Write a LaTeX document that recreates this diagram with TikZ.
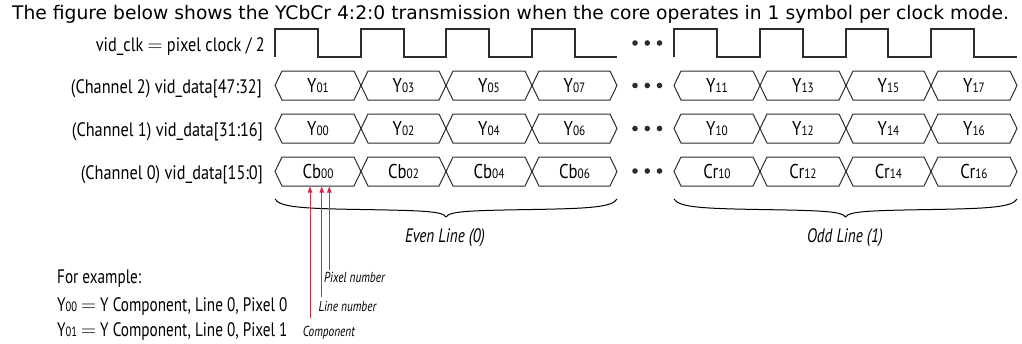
\documentclass[tikz,border=0pt]{standalone}
\usepackage{fontspec}
\setmainfont{PT Sans}
\newfontfamily\titlefont{DejaVu Sans}
\newfontfamily\cond[FakeStretch=0.78]{PT Sans}
\newfontfamily\condw[FakeStretch=0.835]{PT Sans}
\usetikzlibrary{arrows.meta}
\definecolor{wire}{RGB}{45,45,45}
\definecolor{pinkred}{RGB}{218,40,72}
\newcommand\subs[1]{{\fontsize{13.5}{13.5}\selectfont #1}}
\newcommand\busseg[5]{% name, x0, x1, ymid, text
  \draw[bus] (#2,#4) -- (#2+7,#4-14.5) -- (#3-7,#4-14.5) -- (#3,#4) -- (#3-7,#4+14.5) -- (#2+7,#4+14.5) -- cycle;
  \node[seglbl] (#1) at ({(#2+#3)/2},#4+6.8) {#5};
}
\newcommand\threedots[2]{% name, y
  \fill[wire] (635,#2) circle (2.8) (647.3,#2) circle (2.8) (659.5,#2) circle (2.8);
  \coordinate (#1) at (647.3,#2);
}
\tikzset{
  bus/.style={draw=wire, line width=1pt, line join=miter},
  clk/.style={draw=wire, line width=1.2pt},
  seglbl/.style={anchor=base, inner sep=0pt, font=\condw\fontsize{20}{20}\selectfont},
  rowlbl/.style={anchor=base east, inner sep=0pt, font=\condw\fontsize{19.5}{19.5}\selectfont},
  notelbl/.style={anchor=base west, inner sep=0pt, font=\cond\fontsize{19.5}{19.5}\selectfont},
  smalllbl/.style={anchor=base west, inner sep=0pt, font=\cond\itshape\fontsize{14.5}{14.5}\selectfont},
  grouplbl/.style={anchor=base, inner sep=0pt, font=\cond\itshape\fontsize{19.5}{19.5}\selectfont},
  bracestyle/.style={draw=black, line width=1pt},
  redline/.style={draw=pinkred, line width=1pt, -{Triangle[length=6pt,width=4.5pt]}},
}
\begin{document}
\begin{tikzpicture}[x=1pt,y=-1pt]
\useasboundingbox (0,0) rectangle (1022,343);
% title
\node[anchor=base west, inner sep=0pt, font=\titlefont\fontsize{18.7}{18.7}\selectfont] (title) at (12,19.3)
  {The figure below shows the YCbCr 4:2:0 transmission when the core operates in 1 symbol per clock mode.};
% row labels
\node[rowlbl] (lclk) at (265,51.5) {vid\_clk $=$ pixel clock / 2};
\node[rowlbl] (lch2) at (262,93.5) {(Channel 2) vid\_data[47:32]};
\node[rowlbl] (lch1) at (263,136.5) {(Channel 1) vid\_data[31:16]};
\node[rowlbl] (lch0) at (263,179.5) {(Channel 0) vid\_data[15:0]};
% clock
\draw[clk] (275,57) -- (275,29) -- (318,29) -- (318,57) -- (361,57) -- (361,29) -- (404,29) -- (404,57)
  -- (446,57) -- (446,29) -- (489,29) -- (489,57) -- (532,57) -- (532,29) -- (575,29) -- (575,57) -- (617,57);
\draw[clk] (674,57) -- (674,29) -- (717,29) -- (717,57) -- (760,57) -- (760,29) -- (803,29) -- (803,57)
  -- (846,57) -- (846,29) -- (888,29) -- (888,57) -- (931,57) -- (931,29) -- (974,29) -- (974,57) -- (1017,57);
% dots
\threedots{dclk}{43}
\threedots{d2}{85.5}
\threedots{d1}{128.5}
\threedots{d0}{171}
% channel 2
\busseg{a1}{275}{361}{85.5}{Y\subs{01}}
\busseg{a2}{361}{446}{85.5}{Y\subs{03}}
\busseg{a3}{446}{532}{85.5}{Y\subs{05}}
\busseg{a4}{532}{617}{85.5}{Y\subs{07}}
\busseg{a5}{674}{760}{85.5}{Y\subs{11}}
\busseg{a6}{760}{846}{85.5}{Y\subs{13}}
\busseg{a7}{846}{931}{85.5}{Y\subs{15}}
\busseg{a8}{931}{1017}{85.5}{Y\subs{17}}
% channel 1
\busseg{b1}{275}{361}{128.5}{Y\subs{00}}
\busseg{b2}{361}{446}{128.5}{Y\subs{02}}
\busseg{b3}{446}{532}{128.5}{Y\subs{04}}
\busseg{b4}{532}{617}{128.5}{Y\subs{06}}
\busseg{b5}{674}{760}{128.5}{Y\subs{10}}
\busseg{b6}{760}{846}{128.5}{Y\subs{12}}
\busseg{b7}{846}{931}{128.5}{Y\subs{14}}
\busseg{b8}{931}{1017}{128.5}{Y\subs{16}}
% channel 0
\busseg{c1}{275}{361}{171.5}{Cb\subs{00}}
\busseg{c2}{361}{446}{171.5}{Cb\subs{02}}
\busseg{c3}{446}{532}{171.5}{Cb\subs{04}}
\busseg{c4}{532}{617}{171.5}{Cb\subs{06}}
\busseg{c5}{674}{760}{171.5}{Cr\subs{10}}
\busseg{c6}{760}{846}{171.5}{Cr\subs{12}}
\busseg{c7}{846}{931}{171.5}{Cr\subs{14}}
\busseg{c8}{931}{1017}{171.5}{Cr\subs{16}}
% braces
\draw[bracestyle] (275,199) .. controls (280,207) and (300,208.5) .. (360,209.5)
  .. controls (420,210.5) and (443,211) .. (446,217)
  .. controls (449,211) and (472,210.5) .. (532,209.5)
  .. controls (592,208.5) and (612,207) .. (617,199);
\draw[bracestyle] (674,199) .. controls (679,207) and (699,208.5) .. (759,209.5)
  .. controls (819,210.5) and (842,211) .. (845.5,217)
  .. controls (849,211) and (872,210.5) .. (932,209.5)
  .. controls (992,208.5) and (1012,207) .. (1017,199);
\node[grouplbl] (even) at (445,242.3) {Even Line (0)};
\node[grouplbl] (odd) at (845,242.3) {Odd Line (1)};
% red pointers
\coordinate (pcomp) at (310,186.5);
\coordinate (pline) at (321.7,186.5);
\coordinate (ppix) at (329.3,186.5);
\coordinate (ecomp) at (310,318);
\coordinate (eline) at (321.7,297);
\coordinate (epix) at (329.3,270);
\draw[redline] (ecomp) -- (pcomp);
\draw[redline] (eline) -- (pline);
\draw[redline] (epix) -- (ppix);
\node[smalllbl] (tpix) at (324,282.5) {Pixel number};
\node[smalllbl] (tline) at (318.3,311) {Line number};
\node[smalllbl] (tcomp) at (302.7,336) {Component};
% notes
\node[notelbl] (n1) at (57,283.3) {For example:};
\node[notelbl] (n2) at (57,311.7) {Y\subs{00} $=$ Y Component, Line 0, Pixel 0};
\node[notelbl] (n3) at (57,336) {Y\subs{01} $=$ Y Component, Line 0, Pixel 1};
\end{tikzpicture}
\end{document}
